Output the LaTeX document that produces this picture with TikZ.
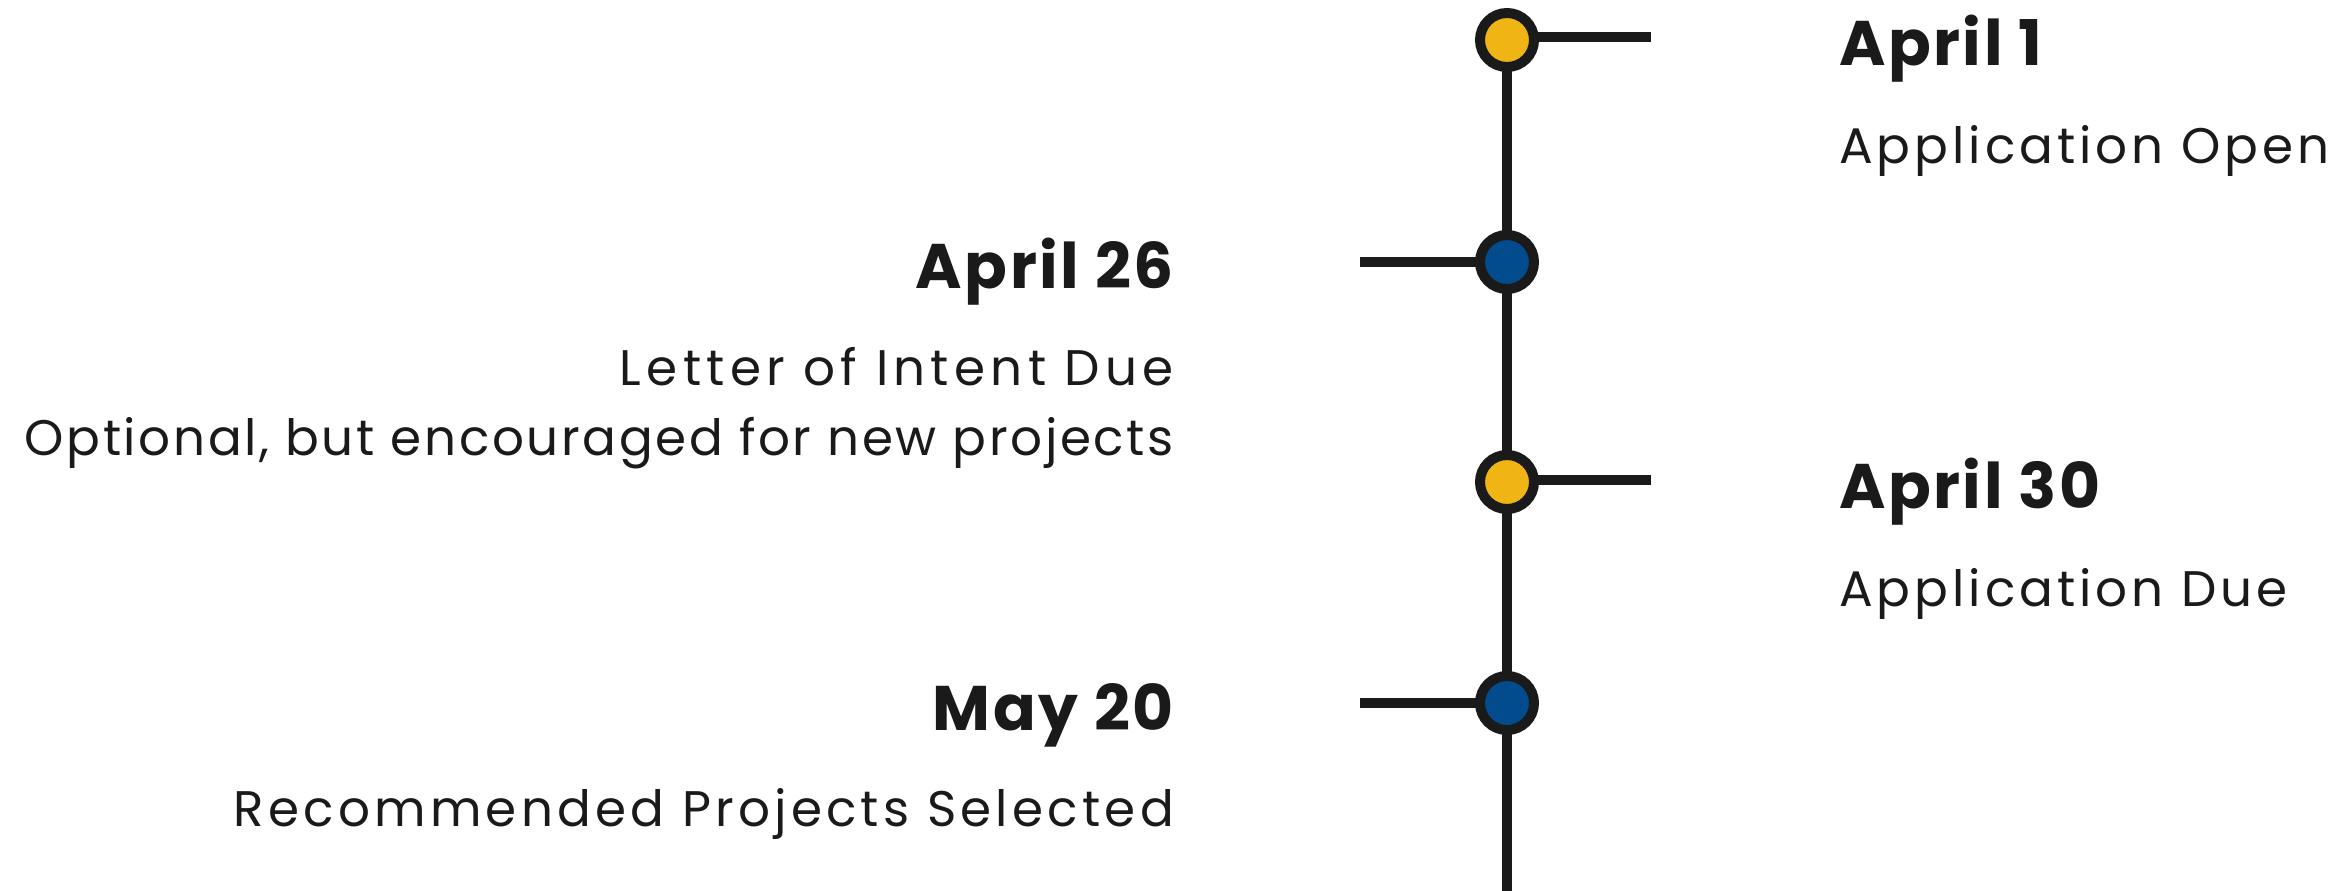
\documentclass[tikz,border=0pt]{standalone}
\usepackage{fontspec}
\setmainfont{Poppins}
\newfontfamily\descfont{Poppins}[LetterSpace=8]
\newfontfamily\descwidefont{Poppins}[LetterSpace=10.6]
\newfontfamily\descnarrowfont{Poppins}[LetterSpace=5.3]
\newfontfamily\descrecfont{Poppins}[LetterSpace=8.5]
\newfontfamily\datefont{Poppins}[LetterSpace=4]
\usetikzlibrary{backgrounds}
\definecolor{ink}{HTML}{1A1A1A}
\definecolor{gold}{HTML}{F0B414}
\definecolor{navy}{HTML}{024C8E}
\tikzset{
  dot/.style={circle, draw=ink, line width=10pt, minimum size=54pt, inner sep=0pt},
  golddot/.style={dot, fill=gold},
  navydot/.style={dot, fill=navy},
  rail/.style={draw=ink, line width=10pt},
  datelabel/.style={inner sep=0pt, text=ink, font=\datefont\bfseries\fontsize{63}{70}\selectfont},
  desclabel/.style={inner sep=0pt, text=ink, font=\descfont\fontsize{50}{70}\selectfont},
  desclabelwide/.style={desclabel, font=\descwidefont\fontsize{50}{70}\selectfont},
  desclabelnarrow/.style={desclabel, font=\descnarrowfont\fontsize{50}{70}\selectfont},
  desclabelrec/.style={desclabel, font=\descrecfont\fontsize{50}{70}\selectfont},
}
\begin{document}
\begin{tikzpicture}[x=1pt, y=-1pt]
\useasboundingbox (0,0) rectangle (2343,891);
% milestones
\node[golddot] (c1) at (1507,40) {};
\node[navydot] (c2) at (1507,262) {};
\node[golddot] (c3) at (1507,482) {};
\node[navydot] (c4) at (1507,703) {};
\coordinate (bottom) at (1507,891);
\coordinate (t1) at (1651,37);
\coordinate (t2) at (1360,262);
\coordinate (t3) at (1651,480);
\coordinate (t4) at (1360,703);
\begin{scope}[on background layer]
\fill[white] (0,0) rectangle (2343,891);
\draw[rail] (c1.center) -- (c2.center) -- (c3.center) -- (c4.center) -- (bottom);
\draw[rail] (c1.center |- t1) -- (t1);
\draw[rail] (c2.center) -- (t2);
\draw[rail] (c3.center |- t3) -- (t3);
\draw[rail] (c4.center) -- (t4);
\end{scope}
% labels
\node[datelabel, anchor=base west] (d1) at (1839,66) {April 1};
\node[desclabel, anchor=base west] (e1) at (1839,163) {Application Open};
\node[datelabel, anchor=base east] (d2) at (1174,288) {April 26};
\node[desclabelwide, anchor=base east] (e2) at (1174,385) {Letter of Intent Due};
\node[desclabelnarrow, anchor=base east] (e2b) at (1174,455) {Optional, but encouraged for new projects};
\node[datelabel, anchor=base west] (d3) at (1839,508) {April 30};
\node[desclabel, anchor=base west] (e3) at (1839,606) {Application Due};
\node[datelabel, anchor=base east] (d4) at (1174,730) {May 20};
\node[desclabelrec, anchor=base east] (e4) at (1174,826) {Recommended Projects Selected};
\end{tikzpicture}
\end{document}
